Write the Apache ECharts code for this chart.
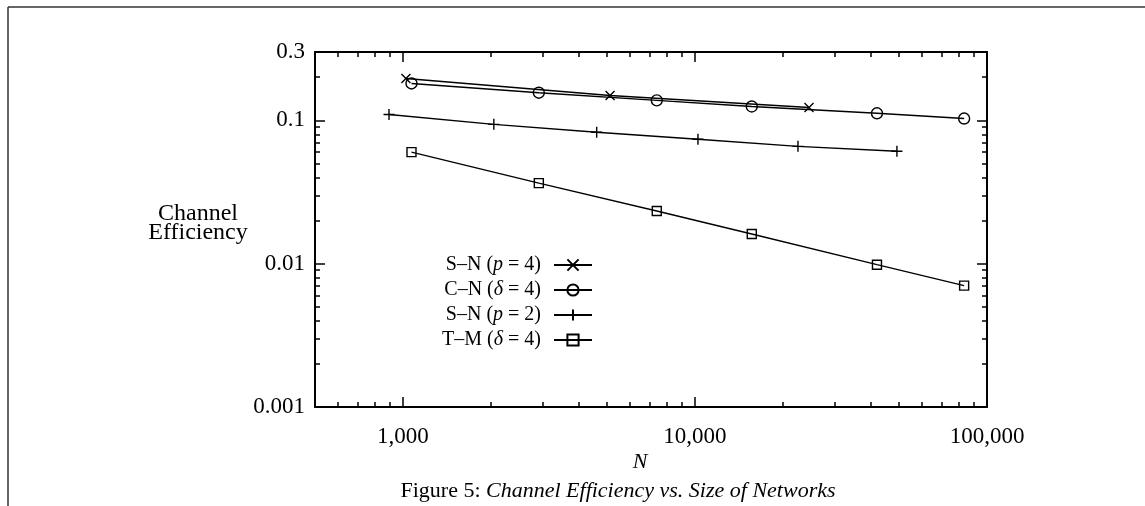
<!DOCTYPE html>
<html>
<head>
<meta charset="utf-8">
<title>Channel Efficiency vs. Size of Networks</title>
<script src="https://cdn.jsdelivr.net/npm/echarts@6.0.0/dist/echarts.min.js"></script>
<style>
  html, body { margin: 0; padding: 0; background: #fff; }
  #chart { width: 1145px; height: 506px; }
</style>
</head>
<body>
<div id="chart"></div>
<script>
// values
const snP4N = [1024, 5120, 24576];
const snP4Eff = [0.196, 0.149, 0.123];

const cnN = [1070, 2920, 7400, 15650, 42000, 83500];
const cnEff = [0.181, 0.156, 0.138, 0.125, 0.112, 0.103];

const snP2N = [896, 2048, 4608, 10240, 22528, 49152];
const snP2Eff = [0.110, 0.0938, 0.0826, 0.0738, 0.0659, 0.0609];

const tmN = [1070, 2920, 7400, 15650, 42000, 83500];
const tmEff = [0.0600, 0.0365, 0.0233, 0.0161, 0.00984, 0.00703];

const seriesNames = ['S–N (p = 4)', 'C–N (δ = 4)', 'S–N (p = 2)', 'T–M (δ = 4)'];
const legendTexts = [
  '{a|S–N (}{i|p}{a| = 4)}',
  '{a|C–N (}{i|δ}{a| = 4)}',
  '{a|S–N (}{i|p}{a| = 2)}',
  '{a|T–M (}{i|δ}{a| = 4)}',
];

const xMajor = [1000, 10000, 100000];
const xTickLabels = ['1,000', '10,000', '100,000'];
const xMinor = [600, 700, 800, 900, 2000, 3000, 4000, 5000, 6000, 7000, 8000, 9000,
  20000, 30000, 40000, 50000, 60000, 70000, 80000, 90000];

const yMajor = [0.001, 0.01, 0.1];
const yLabelValues = [0.001, 0.01, 0.1, 0.3];
const yTickLabels = ['0.001', '0.01', '0.1', '0.3'];
const yMinor = [0.002, 0.003, 0.004, 0.005, 0.006, 0.007, 0.008, 0.009,
  0.02, 0.03, 0.04, 0.05, 0.06, 0.07, 0.08, 0.09, 0.2];

const FONT = 'Liberation Serif';

function pickLabel(values, labels, v) {
  let best = 0;
  values.forEach((t, i) => {
    if (Math.abs(Math.log10(t) - Math.log10(v)) < Math.abs(Math.log10(values[best]) - Math.log10(v))) best = i;
  });
  return labels[best];
}

function pairs(xs, ys) {
  return xs.map((x, i) => [x, ys[i]]);
}

function logAxis(dim, position, major, withLabels) {
  const isX = dim === 'x';
  const axis = {
    type: 'log',
    logBase: 10,
    position: position,
    min: isX ? 500 : 0.001,
    max: isX ? 100000 : 0.3,
    axisLine: { show: major, lineStyle: { color: '#000', width: 2 } },
    axisTick: {
      show: true,
      inside: true,
      length: major ? 10 : 5,
      lineStyle: { color: '#000', width: 1.5 },
      customValues: major ? (isX ? xMajor : yMajor) : (isX ? xMinor : yMinor),
    },
    minorTick: { show: false },
    splitLine: { show: false },
    axisLabel: { show: false },
  };
  if (withLabels) {
    axis.axisLabel = {
      show: true,
      customValues: isX ? xMajor : yLabelValues,
      margin: isX ? 18 : 10,
      color: '#000',
      fontFamily: FONT,
      fontSize: 23,
      formatter: (v) => isX ? pickLabel(xMajor, xTickLabels, v) : pickLabel(yLabelValues, yTickLabels, v),
    };
  }
  return axis;
}

const symbolCross = 'path://M0 0L10 10M10 0L0 10';
const symbolPlus = 'path://M5 0L5 10M0 5L10 5';

function makeSeries(name, xs, ys, symbol, size) {
  return {
    name: name,
    type: 'line',
    data: pairs(xs, ys),
    symbol: symbol,
    symbolSize: size,
    showAllSymbol: true,
    clip: false,
    lineStyle: { color: '#000', width: 1.4 },
    itemStyle: { color: 'transparent', borderColor: '#000', borderWidth: 1.4 },
    emphasis: { disabled: true },
    animation: false,
  };
}

const chart = echarts.init(document.getElementById('chart'), null, { renderer: 'canvas' });

chart.setOption({
  backgroundColor: '#fff',
  animation: false,
  grid: { left: 315, right: 158, top: 52, bottom: 99, containLabel: false },
  xAxis: [
    logAxis('x', 'bottom', true, true),
    logAxis('x', 'top', true, false),
    logAxis('x', 'bottom', false, false),
    logAxis('x', 'top', false, false),
  ],
  yAxis: [
    logAxis('y', 'left', true, true),
    logAxis('y', 'right', true, false),
    logAxis('y', 'left', false, false),
    logAxis('y', 'right', false, false),
  ],
  legend: {
    data: seriesNames,
    orient: 'vertical',
    align: 'right',
    right: 552,
    top: 255,
    itemWidth: 38,
    itemHeight: 14,
    itemGap: 5,
    padding: 0,
    selectedMode: false,
    formatter: (name) => legendTexts[seriesNames.indexOf(name)],
    textStyle: {
      color: '#000',
      padding: [0, 8, 0, 0],
      rich: {
        a: { fontFamily: FONT, fontSize: 20, lineHeight: 20, color: '#000' },
        i: { fontFamily: FONT, fontSize: 20, lineHeight: 20, fontStyle: 'italic', color: '#000' },
      },
    },
  },
  graphic: [
    { type: 'line', shape: { x1: 8, y1: 7, x2: 1145, y2: 7 }, style: { stroke: '#333', lineWidth: 1.5 } },
    { type: 'line', shape: { x1: 8, y1: 7, x2: 8, y2: 506 }, style: { stroke: '#333', lineWidth: 1.5 } },
    {
      type: 'text', x: 198, y: 223,
      style: {
        text: 'Channel\nEfficiency', font: '24px "Liberation Serif"', fill: '#000',
        align: 'center', verticalAlign: 'middle', lineHeight: 19,
      },
    },
    {
      type: 'text', x: 640, y: 462,
      style: { text: 'N', font: 'italic 22px "Liberation Serif"', fill: '#000', align: 'center', verticalAlign: 'middle' },
    },
    {
      type: 'text', x: 618, y: 491,
      style: {
        text: '{a|Figure 5: }{i|Channel Efficiency vs. Size of Networks}',
        align: 'center',
        verticalAlign: 'middle',
        rich: {
          a: { fontFamily: FONT, fontSize: 22, color: '#000' },
          i: { fontFamily: FONT, fontSize: 22, fontStyle: 'italic', color: '#000' },
        },
      },
    },
  ],
  series: [
    makeSeries(seriesNames[0], snP4N, snP4Eff, symbolCross, 9),
    makeSeries(seriesNames[1], cnN, cnEff, 'circle', 11),
    makeSeries(seriesNames[2], snP2N, snP2Eff, symbolPlus, 11),
    makeSeries(seriesNames[3], tmN, tmEff, 'rect', 9),
  ],
});
</script>
</body>
</html>
